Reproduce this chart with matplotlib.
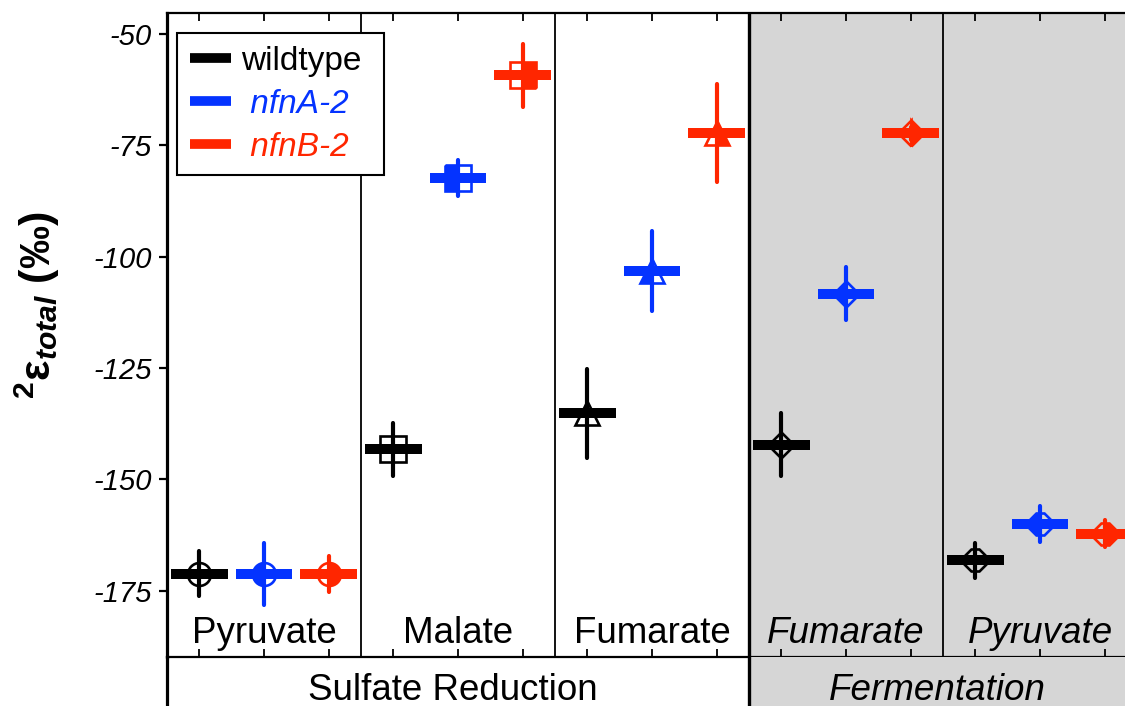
import matplotlib
matplotlib.use('Agg')
import matplotlib.pyplot as plt
from matplotlib.lines import Line2D
from matplotlib.transforms import blended_transform_factory

plt.rcParams['font.family'] = ['Liberation Sans', 'DejaVu Sans']
plt.rcParams['mathtext.fontset'] = 'custom'
plt.rcParams['mathtext.rm'] = 'Liberation Sans:bold'
plt.rcParams['mathtext.it'] = 'Liberation Sans:italic:bold'
plt.rcParams['mathtext.bf'] = 'Liberation Sans:bold'

# ---------------- data ----------------
panels = ['Pyruvate', 'Malate', 'Fumarate', 'Fumarate', 'Pyruvate']
panel_italic = [False, False, False, True, True]
panel_markers = ['o', 's', '^', 'D', '8']
groups = ['Sulfate Reduction', 'Fermentation']
group_panels = [3, 2]
strains = ['wildtype', 'nfnA-2', 'nfnB-2']
strain_colors = ['#000000', '#0433FF', '#FF2600']
strain_fills = ['none', 'left', 'right']

mean_wildtype = [-171.2, -143.3, -135.2, -142.2, -168.2]
mean_nfnA = [-171.3, -82.3, -103.2, -108.3, -160.1]
mean_nfnB = [-171.3, -59.3, -72.3, -72.3, -162.2]
err_wildtype = [5.0, 6.0, 10.0, 7.0, 4.0]
err_nfnA = [7.0, 4.0, 9.0, 6.0, 4.0]
err_nfnB = [4.0, 7.0, 11.0, 1.5, 3.0]
means = [mean_wildtype, mean_nfnA, mean_nfnB]
errs = [err_wildtype, err_nfnA, err_nfnB]

yticks = [-175, -150, -125, -100, -75, -50]
ylim = (-189.9, -45.3)

# ---------------- style ----------------
grey = '#D6D6D6'
marker_sizes = {'o': 16.5, 's': 18.5, '^': 17, 'D': 13.5, '8': 16.5}
W, H = 1125, 706
fig = plt.figure(figsize=(W / 100, H / 100), dpi=100)
ax = fig.add_axes([167 / W, 49 / H, 958 / W, 644 / H])
ax2 = fig.add_axes([167 / W, 0, 958 / W, 49 / H])

n_str = len(strains)
n_pan = len(panels)
xmax = 958 / 64.67  # visible width in strain units (last panel cropped)

# shaded fermentation region
sr_end = group_panels[0] * n_str
for a in (ax, ax2):
    a.axvspan(sr_end, n_pan * n_str + 1, color=grey, zorder=0, lw=0)
    a.set_xlim(0, xmax)

# panel separators
for p in range(1, n_pan):
    b = p * n_str
    ax.axvline(b, color='k', lw=2.4 if b == sr_end else 1.3, zorder=1)
ax2.axvline(sr_end, color='k', lw=2.4, zorder=1)

half = 0.44
for p in range(n_pan):
    mk = panel_markers[p]
    for s in range(n_str):
        x = p * n_str + s + 0.5
        m = means[s][p]
        e = errs[s][p]
        c = strain_colors[s]
        ax.plot([x], [m], marker=mk, ms=marker_sizes[mk], mec=c, mfc=c,
                mfcalt='none', fillstyle=strain_fills[s], mew=1.9,
                ls='none', zorder=3)
        ax.plot([x, x], [m - e, m + e], color=c, lw=3.0,
                solid_capstyle='round', zorder=4)
        ax.plot([x - half, x + half], [m, m], color=c, lw=7.2,
                solid_capstyle='butt', zorder=5)

# panel labels
trans = blended_transform_factory(ax.transData, ax.transAxes)
for p in range(n_pan):
    ax.text(p * n_str + 1.5, 14 / 644, panels[p], transform=trans,
            ha='center', va='baseline', fontsize=26.5,
            style='italic' if panel_italic[p] else 'normal', zorder=6)

# group labels
start = 0
for g, n in zip(groups, group_panels):
    end = start + n * n_str
    ctr = (start + end) / 2
    ax2.text(ctr - 0.08, 6 / 49, g, ha='center', va='baseline', fontsize=26.5,
             style='italic' if g == 'Fermentation' else 'normal')
    start = end

# axes styling
ax.set_ylim(*ylim)
ax.set_yticks(yticks)
ax.set_yticklabels([str(v) for v in yticks], style='italic', fontsize=21)
ax.set_xticks([i + 0.5 for i in range(n_pan * n_str)])
ax.tick_params(axis='x', direction='in', length=5.5, width=1.3,
               top=True, bottom=True, labelbottom=False)
ax.tick_params(axis='y', direction='out', length=6, width=1.6, pad=5)
ax.spines['right'].set_visible(False)
ax.spines['left'].set_linewidth(2.3)
ax.spines['top'].set_linewidth(1.6)
ax.spines['bottom'].set_linewidth(1.6)

ax2.set_ylim(0, 1)
ax2.set_xticks([])
ax2.set_yticks([])
for sp in ('top', 'right', 'bottom'):
    ax2.spines[sp].set_visible(False)
ax2.spines['left'].set_linewidth(2.3)
ax2.patch.set_alpha(0)

# legend
handles = [Line2D([], [], color=c, lw=7, solid_capstyle='butt') for c in strain_colors]
labels = [strains[0] + ' '] + [' ' + s for s in strains[1:]]
leg = ax.legend(handles, labels, loc='upper left', bbox_to_anchor=(10 / 958, (657 - 33) / 644),
                borderaxespad=0, fontsize=24, handlelength=1.25, handletextpad=0.3,
                borderpad=0.38, labelspacing=0.36, fancybox=False, framealpha=1,
                edgecolor='k', labelcolor='linecolor')
leg.get_frame().set_linewidth(1.5)
leg.set_zorder(10)
for t, s in zip(leg.get_texts(), strains):
    if s != 'wildtype':
        t.set_style('italic')

# y label
fig.text(37 / W, 1 - 305 / H, r'$^{2}\mathrm{ε}_{total}$ (‰)', rotation=90,
         ha='center', va='center', fontsize=31, fontweight='bold')

fig.savefig('out.png', dpi=100)
